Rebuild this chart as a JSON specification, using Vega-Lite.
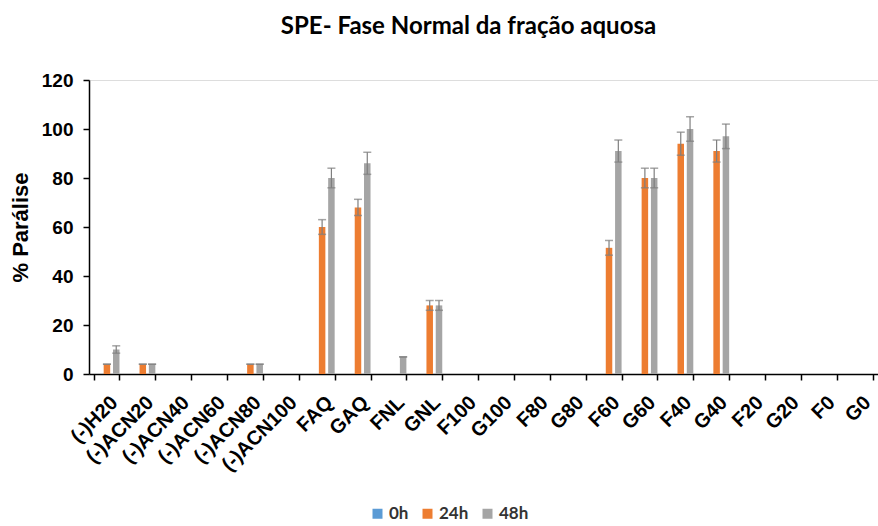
{
  "$schema": "https://vega.github.io/schema/vega-lite/v6.json",
  "width": 789,
  "height": 294,
  "autosize": {"type": "none"},
  "padding": {"left": 89, "top": 80, "right": 0, "bottom": 152},
  "background": "white",
  "title": {
    "text": "SPE- Fase Normal da fração aquosa",
    "font": "Lato",
    "fontSize": 24,
    "fontWeight": "bold",
    "color": "#000000",
    "anchor": "middle",
    "offset": 32,
    "dx": -15
  },
  "data": {
    "values": [
      {"cat": "(-)H20", "time": "24h", "v": 4, "err": 0},
      {"cat": "(-)H20", "time": "48h", "v": 10, "err": 1.5},
      {"cat": "(-)ACN20", "time": "24h", "v": 4, "err": 0},
      {"cat": "(-)ACN20", "time": "48h", "v": 4, "err": 0},
      {"cat": "(-)ACN80", "time": "24h", "v": 4, "err": 0},
      {"cat": "(-)ACN80", "time": "48h", "v": 4, "err": 0},
      {"cat": "FAQ", "time": "24h", "v": 60, "err": 3},
      {"cat": "FAQ", "time": "48h", "v": 80, "err": 4},
      {"cat": "GAQ", "time": "24h", "v": 68, "err": 3.3},
      {"cat": "GAQ", "time": "48h", "v": 86, "err": 4.5},
      {"cat": "FNL", "time": "48h", "v": 7, "err": 0},
      {"cat": "GNL", "time": "24h", "v": 28, "err": 2},
      {"cat": "GNL", "time": "48h", "v": 28, "err": 2},
      {"cat": "F60", "time": "24h", "v": 51.5, "err": 3},
      {"cat": "F60", "time": "48h", "v": 91, "err": 4.5},
      {"cat": "G60", "time": "24h", "v": 80, "err": 4},
      {"cat": "G60", "time": "48h", "v": 80, "err": 4},
      {"cat": "F40", "time": "24h", "v": 94, "err": 4.7},
      {"cat": "F40", "time": "48h", "v": 100, "err": 5},
      {"cat": "G40", "time": "24h", "v": 91, "err": 4.5},
      {"cat": "G40", "time": "48h", "v": 97, "err": 5}
    ]
  },
  "transform": [
    {"calculate": "datum.v - datum.err", "as": "lo"},
    {"calculate": "datum.v + datum.err", "as": "hi"}
  ],
  "encoding": {
    "x": {
      "field": "cat",
      "type": "nominal",
      "scale": {
        "domain": ["(-)H20", "(-)ACN20", "(-)ACN40", "(-)ACN60", "(-)ACN80", "(-)ACN100", "FAQ", "GAQ", "FNL", "GNL", "F100", "G100", "F80", "G80", "F60", "G60", "F40", "G40", "F20", "G20", "F0", "G0"],
        "paddingInner": 0.3,
        "paddingOuter": 0.15
      },
      "axis": {
        "title": null,
        "labelAngle": -45,
        "labelFont": "Liberation Sans",
        "labelFontSize": 20,
        "labelFontWeight": "bold",
        "labelColor": "#000000",
        "labelPadding": 12,
        "tickBand": "extent",
        "tickColor": "#000000",
        "tickSize": 6,
        "tickWidth": 1.5,
        "domainColor": "#000000",
        "domainWidth": 1.5,
        "grid": false
      }
    },
    "xOffset": {
      "field": "time",
      "type": "nominal",
      "scale": {"domain": ["0h", "24h", "48h"], "paddingInner": 0.3}
    }
  },
  "layer": [
    {
      "mark": {"type": "bar"},
      "encoding": {
        "y": {
          "field": "v",
          "type": "quantitative",
          "scale": {"domain": [0, 120]},
          "axis": {
            "title": "% Parálise",
            "titleFont": "Liberation Sans",
            "titleFontSize": 22,
            "titleFontWeight": "bold",
            "titleColor": "#000000",
            "titlePadding": 9,
            "values": [0, 20, 40, 60, 80, 100, 120],
            "labelFont": "Liberation Sans",
            "labelFontSize": 19,
            "labelFontWeight": "bold",
            "labelColor": "#000000",
            "labelPadding": 10,
            "tickColor": "#000000",
            "tickSize": 6,
            "tickWidth": 1.5,
            "domainColor": "#000000",
            "domainWidth": 1.5,
            "grid": false
          }
        },
        "color": {
          "field": "time",
          "type": "nominal",
          "scale": {"domain": ["0h", "24h", "48h"], "range": ["#5B9BD5", "#ED7D31", "#A5A5A5"]},
          "legend": {
            "title": null,
            "orient": "none",
            "legendX": 280,
            "legendY": 425,
            "direction": "horizontal",
            "symbolType": "square",
            "symbolSize": 100,
            "symbolStrokeWidth": 0,
            "labelFont": "Lato",
            "labelFontSize": 17,
            "labelFontWeight": "bold",
            "labelColor": "#333333",
            "columnPadding": 10,
            "labelOffset": 3
          }
        }
      }
    },
    {
      "mark": {"type": "rule", "color": "#7F7F7F", "strokeWidth": 1.2},
      "encoding": {
        "y": {"field": "lo", "type": "quantitative"},
        "y2": {"field": "hi"}
      }
    },
    {
      "mark": {"type": "tick", "orient": "horizontal", "color": "#7F7F7F", "thickness": 1.5, "size": 8},
      "encoding": {"y": {"field": "hi", "type": "quantitative"}}
    },
    {
      "mark": {"type": "tick", "orient": "horizontal", "color": "#7F7F7F", "thickness": 1.5, "size": 8},
      "encoding": {"y": {"field": "lo", "type": "quantitative"}}
    }
  ]
}
